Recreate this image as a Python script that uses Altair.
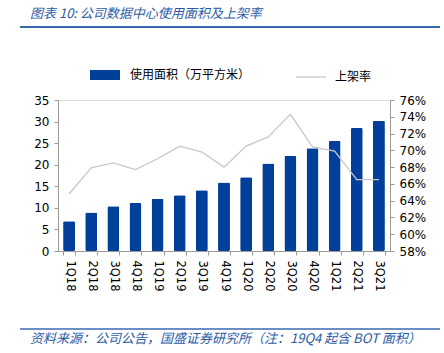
import altair as alt
import pandas as pd

quarters = ["1Q18","2Q18","3Q18","4Q18","1Q19","2Q19","3Q19","4Q19",
            "1Q20","2Q20","3Q20","4Q20","1Q21","2Q21","3Q21"]
area = [6.9, 8.9, 10.4, 11.1, 12.1, 12.9, 14.1, 15.9, 17.1, 20.3, 22.0, 23.8, 25.5, 28.5, 30.2]
rate = [0.648, 0.679, 0.685, 0.677, 0.690, 0.705, 0.698, 0.680, 0.705, 0.716, 0.743, 0.704, 0.699, 0.665, 0.665]

BAR_NAME = "使用面积（万平方米）"
LINE_NAME = "上架率"
TITLE = "图表 10:  公司数据中心使用面积及上架率"
SOURCE = "资料来源：公司公告，国盛证券研究所（注：19Q4 起含 BOT 面积）"

df = pd.DataFrame({"q": quarters, "area": area, "rate": rate,
                   "bar_s": BAR_NAME, "line_s": LINE_NAME})

FONT = "Noto Sans CJK SC"
NUMFONT = "DejaVu Sans"
BLUE = "#00409a"
GRAY_AX = "#9a9a9a"

x = alt.X("q:N", sort=quarters, title=None,
          scale=alt.Scale(paddingInner=0.46, paddingOuter=0.23),
          axis=alt.Axis(labelAngle=90, labelFontSize=11.5, labelColor="#000",
                        labelFont=NUMFONT, domainColor=GRAY_AX, tickColor=GRAY_AX,
                        tickBand="extent", tickSize=4, labelPadding=5))

bars = alt.Chart(df).mark_bar(cornerRadius=1.5).encode(
    x=x,
    y=alt.Y("area:Q", title=None,
            scale=alt.Scale(domain=[0, 35], nice=False),
            axis=alt.Axis(values=[0,5,10,15,20,25,30,35], labelFontSize=12,
                          labelColor="#000", labelFont=NUMFONT, grid=False,
                          domainColor=GRAY_AX, tickColor=GRAY_AX, tickSize=4,
                          labelPadding=5)),
    color=alt.Color("bar_s:N", scale=alt.Scale(range=[BLUE]),
                    legend=alt.Legend(title=None, orient="none", legendX=37, legendY=-35,
                                      symbolType="M-1.5,-0.5h3v1h-3z", symbolSize=400,
                                      symbolStrokeWidth=0, symbolOpacity=1,
                                      labelFontSize=12, labelFont=FONT, labelColor="#000",
                                      labelOffset=15)),
)

line = alt.Chart(df).mark_line(strokeWidth=1.3).encode(
    x=alt.X("q:N", sort=quarters),
    y=alt.Y("rate:Q", title=None,
            scale=alt.Scale(domain=[0.58, 0.76], nice=False),
            axis=alt.Axis(orient="right", values=[0.58,0.60,0.62,0.64,0.66,0.68,0.70,0.72,0.74,0.76],
                          format=".0%", labelFontSize=12, labelColor="#000",
                          labelFont=NUMFONT, grid=False, domainColor=GRAY_AX,
                          tickColor=GRAY_AX, tickSize=4, labelPadding=5)),
    stroke=alt.Stroke("line_s:N", scale=alt.Scale(range=["#c8c8c8"]),
                      legend=alt.Legend(title=None, orient="none", legendX=237, legendY=-39,
                                        symbolType="stroke", symbolSize=900,
                                        symbolStrokeWidth=1.3,
                                        labelFontSize=12, labelFont=FONT, labelColor="#000",
                                        labelOffset=8)),
)

deco = pd.DataFrame({"t": [TITLE]})
title_txt = alt.Chart(deco).mark_text(
    align="left", baseline="alphabetic", font=FONT, fontSize=13, fontStyle="italic",
    color="#2b5ba6").encode(x=alt.value(-28), y=alt.value(-82), text=alt.value(TITLE))
title_rule = alt.Chart(deco).mark_rule(color="#3a68b0", strokeWidth=2).encode(
    x=alt.value(-38), x2=alt.value(382), y=alt.value(-73))
src_rule = alt.Chart(deco).mark_rule(color="#3a68b0", strokeWidth=1.3).encode(
    x=alt.value(-38), x2=alt.value(382), y=alt.value(229))
src_txt = alt.Chart(deco).mark_text(
    align="left", baseline="alphabetic", font=FONT, fontSize=13, fontStyle="italic",
    color="#2b5ba6").encode(x=alt.value(-28), y=alt.value(243), text=alt.value(SOURCE))

chart = alt.layer(bars, line).resolve_scale(y="independent", color="independent")
chart = alt.layer(chart, title_txt, title_rule, src_rule, src_txt).properties(
    width=332, height=151,
    autosize=alt.AutoSizeParams(type="none"),
    padding={"left": 58, "top": 100, "right": 54, "bottom": 102},
).configure_view(stroke=None).configure(background="white")

chart.save("out.html", embed_options={"renderer": "svg", "actions": False})
